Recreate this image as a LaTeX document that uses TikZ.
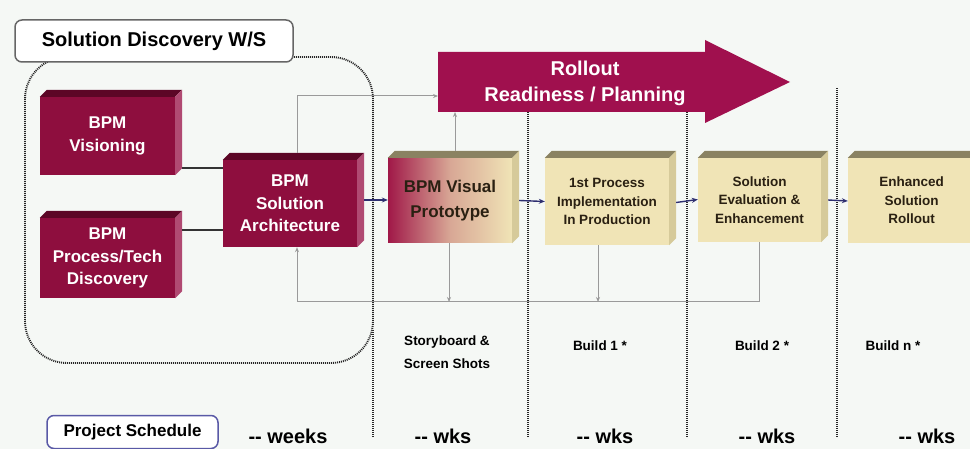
\documentclass[tikz,border=0pt]{standalone}
\usepackage{fontspec}
\setmainfont{Liberation Sans}
\usetikzlibrary{calc,arrows.meta}
\definecolor{bg}{HTML}{F5F8F5}
\definecolor{maroon}{HTML}{8E0E3E}
\definecolor{protoleft}{HTML}{A01848}
\definecolor{maroontop}{HTML}{5C0626}
\definecolor{maroonside}{HTML}{B04A72}
\definecolor{beige}{HTML}{F0E4B6}
\definecolor{beigetop}{HTML}{8A8262}
\definecolor{beigeside}{HTML}{D6CA9A}
\definecolor{rollc}{HTML}{A0104E}
\definecolor{navy}{HTML}{2E2E70}
\definecolor{lgray}{HTML}{9A9A9A}
\definecolor{dotc}{HTML}{262626}
\definecolor{txtdark}{HTML}{2A2012}
\newcommand\depthfaces[3]{%
  \fill[#2] (#1.north west) -- ++(7,-7) -- ($(#1.north east)+(7,-7)$) -- (#1.north east) -- cycle;
  \fill[#3] (#1.north east) -- ++(7,-7) -- ($(#1.south east)+(7,-7)$) -- (#1.south east) -- cycle;}
\begin{document}
\begin{tikzpicture}[x=1pt,y=-1pt,
  mbox/.style={fill=maroon, text=white, inner sep=0pt, align=center,
    font=\fontsize{17}{22.5}\selectfont\bfseries},
  bbox/.style={fill=beige, text=txtdark, inner sep=0pt, align=center,
    font=\fontsize{13.5}{18.5}\selectfont\bfseries},
  dotline/.style={draw=dotc, line width=1.9pt, dash pattern=on 1pt off 1pt},
  grayline/.style={draw=lgray, line width=1pt},
  grayarrow/.style={grayline, -{Stealth[length=5pt,width=4pt]}},
  navyarrow/.style={draw=navy, line width=1.4pt, -{Stealth[length=6pt,width=5pt]}},
  lbox/.style={draw=#1, fill=white, line width=1.5pt, rounded corners=7pt, inner sep=0pt},
  plain/.style={text=black, inner sep=0pt, align=center, font=\bfseries}
]
\useasboundingbox (0,0) rectangle (970,449);
\fill[bg] (0,0) rectangle (970,449);
\clip (0,0) rectangle (970,449);

% dotted discovery region
\draw[dotline, rounded corners=42pt] (25,57) rectangle (373,363);
\draw[dotline] (373,330) -- (373,437);
\coordinate (d1t) at (528,112); \coordinate (d1b) at (528,437);
\coordinate (d2t) at (687,112); \coordinate (d2b) at (687,437);
\coordinate (d3t) at (837,88);  \coordinate (d3b) at (837,437);
\draw[dotline] (d1t) -- (d1b);
\draw[dotline] (d2t) -- (d2b);
\draw[dotline] (d3t) -- (d3b);

% label box
\node[lbox=gray!80!black, minimum width=278pt, minimum height=42pt,
  font=\fontsize{20}{24}\selectfont\bfseries] (sdw) at (154,41) {Solution Discovery W/S};

% rollout arrow
\fill[rollc] (438,52) -- (705,52) -- (705,40) -- (790,82) -- (705,123) -- (705,112) -- (438,112) -- cycle;
\node[text=white, inner sep=0pt, align=center, font=\fontsize{20}{26}\selectfont\bfseries] (roll) at (585,83) {Rollout\\Readiness / Planning};
\coordinate (rollL) at (438,96);
\coordinate (rollB) at (455,112);

% boxes
\node[mbox, minimum width=135pt, minimum height=78pt] (vis) at (107.5,136) {BPM\\Visioning};
\depthfaces{vis}{maroontop}{maroonside}
\node[mbox, minimum width=135pt, minimum height=80pt] (proc) at (107.5,258) {BPM\\Process/Tech\\Discovery};
\depthfaces{proc}{maroontop}{maroonside}
\node[mbox, minimum width=134pt, minimum height=87pt] (arch) at (290,203.5) {BPM\\Solution\\Architecture};
\depthfaces{arch}{maroontop}{maroonside}
\node[bbox, left color=protoleft, right color=beige, middle color=protoleft!30!beige,
  minimum width=124pt, minimum height=85pt, font=\fontsize{17}{25}\selectfont\bfseries] (proto) at (450,200.5) {BPM Visual\\Prototype};
\depthfaces{proto}{beigetop}{beigeside}
\node[bbox, minimum width=124pt, minimum height=87pt] (p1) at (607,201.5) {1st Process\\Implementation\\In Production};
\depthfaces{p1}{beigetop}{beigeside}
\node[bbox, minimum width=123pt, minimum height=84pt] (eval) at (759.5,200) {Solution\\Evaluation \&\\Enhancement};
\depthfaces{eval}{beigetop}{beigeside}
\node[bbox, minimum width=127pt, minimum height=85pt] (enh) at (911.5,200.5) {Enhanced\\Solution\\Rollout};
\depthfaces{enh}{beigetop}{beigeside}

% connectors
\draw[draw=black!80, line width=1.2pt] ([xshift=7pt,yshift=-32pt]vis.east) -- ([yshift=35.5pt]arch.west);
\draw[draw=black!80, line width=1.2pt] ([xshift=7pt,yshift=28pt]proc.east) -- ([yshift=-26.5pt]arch.west);
\draw[navyarrow] ([xshift=7pt,yshift=3.5pt]arch.east) -- ([yshift=0.5pt]proto.west);
\draw[navyarrow] ([xshift=7pt]proto.east) -- (p1.west);
\draw[navyarrow] ([xshift=7pt,yshift=-1pt]p1.east) -- ([yshift=0.5pt]eval.west);
\draw[navyarrow] ([xshift=7pt]eval.east) -- ([yshift=-0.5pt]enh.west);

\draw[grayarrow] ([xshift=7pt,yshift=7pt]arch.north) |- (rollL);
\draw[grayarrow] ([xshift=5pt,yshift=7pt]proto.north) -- (rollB);
\coordinate (fb) at (0,302);
\draw[grayarrow] (eval.south) -- (eval.south |- fb) -| ([xshift=7pt]arch.south);
\draw[grayarrow] ([xshift=-1pt]proto.south) -- ([xshift=-1pt]proto.south |- fb);
\draw[grayarrow] ([xshift=-9pt]p1.south) -- ([xshift=-9pt]p1.south |- fb);

% bottom texts
\node[plain, font=\fontsize{13.5}{23}\selectfont\bfseries] (sb) at (447,352) {Storyboard \&\\Screen Shots};
\node[plain, font=\fontsize{13.5}{18}\selectfont\bfseries] (b1) at (600,346) {Build 1 *};
\node[plain, font=\fontsize{13.5}{18}\selectfont\bfseries] (b2) at (762,346) {Build 2 *};
\node[plain, font=\fontsize{13.5}{18}\selectfont\bfseries] (bn) at (893,346) {Build n *};

\node[lbox=gray!70!blue, minimum width=171pt, minimum height=33pt,
  font=\fontsize{17}{20}\selectfont\bfseries] (ps) at (132.5,432) {Project Schedule};
\node[plain, font=\fontsize{20}{24}\selectfont\bfseries] (w0) at (288,436) {-{}- weeks};
\node[plain, font=\fontsize{20}{24}\selectfont\bfseries] (w1) at (443,436) {-{}- wks};
\node[plain, font=\fontsize{20}{24}\selectfont\bfseries] (w2) at (605,436) {-{}- wks};
\node[plain, font=\fontsize{20}{24}\selectfont\bfseries] (w3) at (767,436) {-{}- wks};
\node[plain, font=\fontsize{20}{24}\selectfont\bfseries] (w4) at (927,436) {-{}- wks};
\end{tikzpicture}
\end{document}
